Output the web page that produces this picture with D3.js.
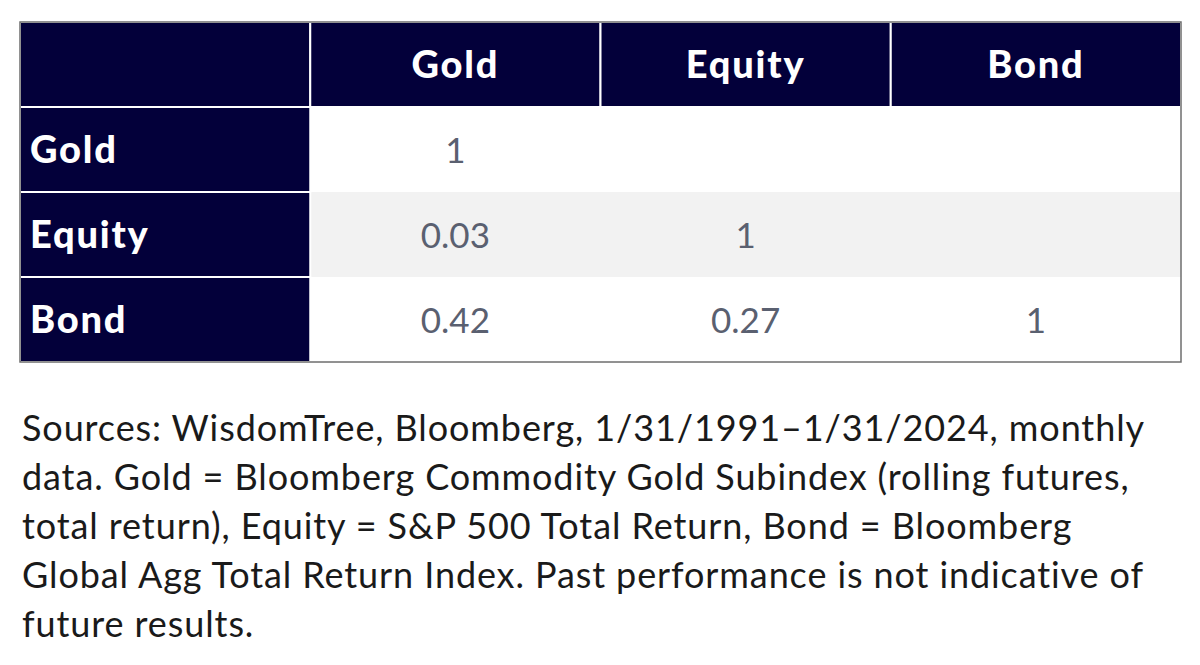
<!DOCTYPE html>
<html>
<head>
<meta charset="utf-8">
<script src="https://cdn.jsdelivr.net/npm/d3@7"></script>
<style>
  body { margin: 0; background: #fff; }
  svg { display: block; }
</style>
</head>
<body>
<div id="chart"></div>
<script>
// correlation matrix (lower triangle only)
const assets = ["Gold", "Equity", "Bond"];
const goldCol = [1, 0.03, 0.42];
const equityCol = [null, 1, 0.27];
const bondCol = [null, null, 1];
const footnote = [
    "Sources: WisdomTree, Bloomberg, 1/31/1991\u20131/31/2024, monthly",
    "data. Gold = Bloomberg Commodity Gold Subindex (rolling futures,",
    "total return), Equity = S&P 500 Total Return, Bond = Bloomberg",
    "Global Agg Total Return Index. Past performance is not indicative of",
    "future results."
];

const width = 1200, height = 665;
const navy = "#03003a";
const font = "Lato, 'Source Sans Pro', sans-serif";

const svg = d3.select("#chart")
    .append("svg")
    .attr("width", width)
    .attr("height", height);

const x = d3.scaleBand()
    .domain(["label"].concat(assets))
    .range([20, 1181]);
const y = d3.scaleBand()
    .domain(["header"].concat(assets))
    .range([22, 362]);

const cols = [goldCol, equityCol, bondCol];
let cells = [];
assets.forEach(function (r, i) {
    assets.forEach(function (c, j) {
        cells.push({row: r, col: c, i: i, value: cols[j][i]});
    });
});

// body backgrounds
svg.selectAll(".rowbg")
    .data(assets)
    .enter().append("rect")
    .attr("class", "rowbg")
    .attr("x", x("Gold"))
    .attr("y", d => y(d))
    .attr("width", x("Bond") + x.bandwidth() - x("Gold"))
    .attr("height", y.bandwidth())
    .style("fill", (d, i) => i % 2 == 1 ? "#f2f2f2" : "#ffffff");

// header cells
svg.selectAll(".hcell")
    .data(["label"].concat(assets))
    .enter().append("rect")
    .attr("class", "hcell")
    .attr("x", d => x(d))
    .attr("y", y("header"))
    .attr("width", x.bandwidth())
    .attr("height", y.bandwidth())
    .style("fill", navy)
    .style("stroke", "#ffffff")
    .style("stroke-width", 2);

// row label cells
svg.selectAll(".lcell")
    .data(assets)
    .enter().append("rect")
    .attr("class", "lcell")
    .attr("x", x("label"))
    .attr("y", d => y(d))
    .attr("width", x.bandwidth())
    .attr("height", y.bandwidth())
    .style("fill", navy)
    .style("stroke", "#ffffff")
    .style("stroke-width", 2);

// outer border
svg.append("rect")
    .attr("x", x("label"))
    .attr("y", y("header"))
    .attr("width", x("Bond") + x.bandwidth() - x("label"))
    .attr("height", y("Bond") + y.bandwidth() - y("header"))
    .style("fill", "none")
    .style("stroke", "#6e6e6e")
    .style("stroke-width", 1.5);

svg.selectAll(".htext")
    .data(assets)
    .enter().append("text")
    .attr("class", "htext")
    .attr("x", d => x(d) + x.bandwidth() / 2)
    .attr("y", y("header") + y.bandwidth() / 2 + 13)
    .attr("text-anchor", "middle")
    .style("font-family", font)
    .style("font-weight", 900)
    .style("font-size", "38px")
    .style("letter-spacing", "1.8px")
    .style("fill", "#ffffff")
    .text(d => d);

svg.selectAll(".ltext")
    .data(assets)
    .enter().append("text")
    .attr("class", "ltext")
    .attr("x", x("label") + 10)
    .attr("y", d => y(d) + y.bandwidth() / 2 + 13)
    .style("font-family", font)
    .style("font-weight", 900)
    .style("font-size", "38px")
    .style("letter-spacing", "1.8px")
    .style("fill", "#ffffff")
    .text(d => d);

svg.selectAll(".vtext")
    .data(cells.filter(d => d.value !== null))
    .enter().append("text")
    .attr("class", "vtext")
    .attr("x", d => x(d.col) + x.bandwidth() / 2)
    .attr("y", d => y(d.row) + y.bandwidth() / 2 + 13)
    .attr("text-anchor", "middle")
    .style("font-family", font)
    .style("font-size", "35px")
    .style("fill", "#5a6070")
    .text(d => d.value === 1 ? "1" : d3.format(".2f")(d.value));

svg.selectAll(".foot")
    .data(footnote)
    .enter().append("text")
    .attr("class", "foot")
    .attr("x", 22)
    .attr("y", (d, i) => 441 + i * 49)
    .style("font-family", font)
    .style("font-size", "36px")
    .style("letter-spacing", "0.9px")
    .style("fill", "#1a1a1a")
    .text(d => d);
</script>
</body>
</html>
